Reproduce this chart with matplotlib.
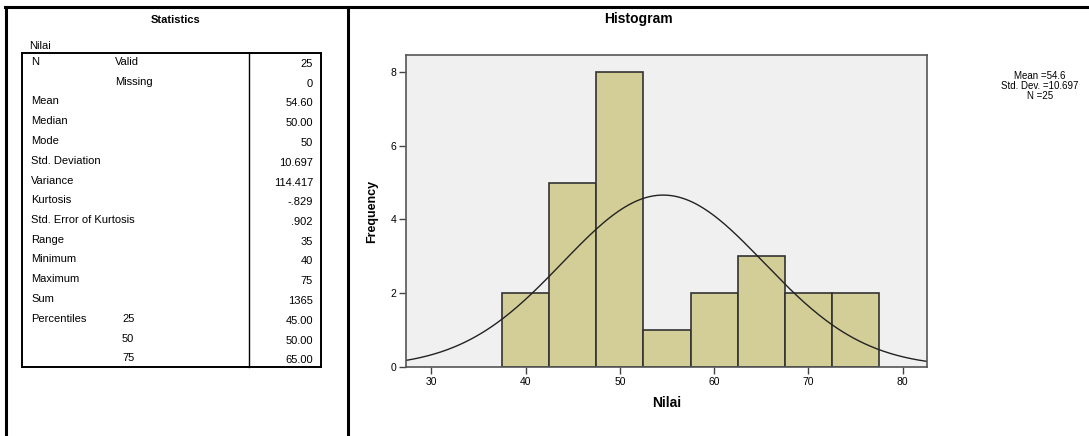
import numpy as np
import matplotlib
matplotlib.use("Agg")
import matplotlib.pyplot as plt
from matplotlib.lines import Line2D

plt.rcParams['font.family'] = ['Liberation Sans', 'DejaVu Sans']

# statistics table
stat_labels = ["N", "", "Mean", "Median", "Mode", "Std. Deviation", "Variance",
               "Kurtosis", "Std. Error of Kurtosis", "Range", "Minimum",
               "Maximum", "Sum", "Percentiles", "", ""]
stat_sub = ["Valid", "Missing", "", "", "", "", "", "", "", "", "", "", "",
            "25", "50", "75"]
stat_values = ["25", "0", "54.60", "50.00", "50", "10.697", "114.417", "-.829",
               ".902", "35", "40", "75", "1365", "45.00", "50.00", "65.00"]

# histogram
bin_edges = [37.5, 42.5, 47.5, 52.5, 57.5, 62.5, 67.5, 72.5, 77.5]
counts = [2, 5, 8, 1, 2, 3, 2, 2]
mean, sd, n = 54.6, 10.697, 25

W, H = 1089, 436
fig = plt.figure(figsize=(W / 100, H / 100), dpi=100)

def fx(x):
    return x / W

def fy(y):
    return 1 - y / H

def hline(x0, x1, y, lw=1.0):
    fig.add_artist(Line2D([fx(x0), fx(x1)], [fy(y), fy(y)], color="black", lw=lw))

def vline(x, y0, y1, lw=1.0):
    fig.add_artist(Line2D([fx(x), fx(x)], [fy(y0), fy(y1)], color="black", lw=lw))

# outer frame
hline(5, 1089, 7, lw=2.2)
vline(6, 7, 436, lw=2.2)
vline(348, 7, 436, lw=2.2)

# left table
fig.text(fx(176), fy(20), "Statistics", ha="center", va="center",
         fontsize=8, fontweight="bold")
fig.text(fx(29), fy(46), "Nilai", ha="left", va="center", fontsize=8)
hline(22, 321, 53, lw=1.4)
hline(22, 321, 367, lw=1.4)
vline(22, 53, 367, lw=1.4)
vline(321, 53, 367, lw=1.4)
vline(249, 53, 367, lw=1.0)

y0, dy = 62, 19.75
for i, (lab, sub, val) in enumerate(zip(stat_labels, stat_sub, stat_values)):
    y = y0 + i * dy
    fig.text(fx(31), fy(y), lab, ha="left", va="center", fontsize=8)
    if sub:
        sx = 115 if i < 2 else 122
        fig.text(fx(sx), fy(y), sub, ha="left", va="center", fontsize=8)
    fig.text(fx(313), fy(y + 2), val, ha="right", va="center", fontsize=8)

# histogram axes
ax = fig.add_axes([fx(406), fy(367), fx(927 - 406), (367 - 55) / H])
ax.set_facecolor("#f0f0f0")
ax.hist(bin_edges[:-1], bins=bin_edges, weights=counts,
        color="#d3ce97", edgecolor="#333333", linewidth=1.2)

xs = np.linspace(27.3, 82.6, 300)
binw = bin_edges[1] - bin_edges[0]
ys = n * binw / (sd * np.sqrt(2 * np.pi)) * np.exp(-0.5 * ((xs - mean) / sd) ** 2)
ax.plot(xs, ys, color="#222222", lw=1.0)

ax.set_xlim(27.3, 82.6)
ax.set_ylim(0, 8.46)
ax.set_xticks([30, 40, 50, 60, 70, 80])
ax.set_yticks([0, 2, 4, 6, 8])
ax.tick_params(labelsize=7.5, length=5, width=1, color="#444444", pad=2)
for s in ax.spines.values():
    s.set_color("#555555")
    s.set_linewidth(1.2)

ax.set_xlabel("Nilai", fontsize=10, fontweight="bold", labelpad=7)
ax.set_ylabel("Frequency", fontsize=9, fontweight="bold", labelpad=9)
fig.text(fx(638), fy(19), "Histogram", ha="center", va="center",
         fontsize=10, fontweight="bold")
fig.text(fx(1040), fy(86), "Mean =54.6\nStd. Dev. =10.697\nN =25",
         ha="center", va="center", fontsize=7, linespacing=0.95)

fig.savefig("out.png", dpi=100)
